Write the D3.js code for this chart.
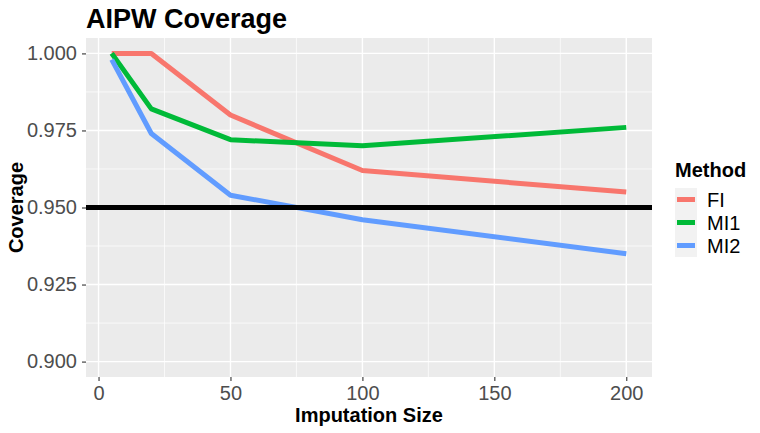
<!DOCTYPE html>
<html>
<head>
<meta charset="utf-8">
<script src="https://cdn.jsdelivr.net/npm/d3@7"></script>
<style>
  body { margin: 0; background: #fff; }
  svg { display: block; font-family: "Liberation Sans", Arial, sans-serif; }
</style>
</head>
<body>
<div id="chart"></div>
<script>
// data
const sizes = [5, 20, 50, 100, 200];
const methods = ["FI", "MI1", "MI2"];
const fiValues = [1.000, 1.000, 0.980, 0.962, 0.955];
const mi1Values = [1.000, 0.982, 0.972, 0.970, 0.976];
const mi2Values = [0.998, 0.974, 0.954, 0.946, 0.935];
const xTicks = [0, 50, 100, 150, 200];
const yTicks = [0.900, 0.925, 0.950, 0.975, 1.000];
const refLine = 0.95;

const colors = { FI: "#F8766D", MI1: "#00BA38", MI2: "#619CFF" };
const seriesValues = { FI: fiValues, MI1: mi1Values, MI2: mi2Values };

const width = 760, height = 433;
const panel = { left: 86, right: 652, top: 38, bottom: 377 };

const svg = d3.select("#chart").append("svg")
    .attr("width", width)
    .attr("height", height);

// scales, with ggplot's 5% expansion
const x = d3.scaleLinear()
    .domain([5 - 9.75, 200 + 9.75])
    .range([panel.left, panel.right]);

const y = d3.scaleLinear()
    .domain([0.895, 1.005])
    .range([panel.bottom, panel.top]);

// panel background
svg.append("rect")
    .attr("x", panel.left)
    .attr("y", panel.top)
    .attr("width", panel.right - panel.left)
    .attr("height", panel.bottom - panel.top)
    .attr("fill", "#EBEBEB");

// minor grid
const grid = svg.append("g");
const xMinor = xTicks.slice(0, -1).map((d, i) => (d + xTicks[i + 1]) / 2);
const yMinor = yTicks.slice(0, -1).map((d, i) => (d + yTicks[i + 1]) / 2);

grid.selectAll(".xminor").data(xMinor).enter().append("line")
    .attr("x1", d => x(d)).attr("x2", d => x(d))
    .attr("y1", panel.top).attr("y2", panel.bottom)
    .attr("stroke", "#fff").attr("stroke-width", 0.7);
grid.selectAll(".yminor").data(yMinor).enter().append("line")
    .attr("x1", panel.left).attr("x2", panel.right)
    .attr("y1", d => y(d)).attr("y2", d => y(d))
    .attr("stroke", "#fff").attr("stroke-width", 0.7);

// major grid
grid.selectAll(".xmajor").data(xTicks).enter().append("line")
    .attr("x1", d => x(d)).attr("x2", d => x(d))
    .attr("y1", panel.top).attr("y2", panel.bottom)
    .attr("stroke", "#fff").attr("stroke-width", 1.4);
grid.selectAll(".ymajor").data(yTicks).enter().append("line")
    .attr("x1", panel.left).attr("x2", panel.right)
    .attr("y1", d => y(d)).attr("y2", d => y(d))
    .attr("stroke", "#fff").attr("stroke-width", 1.4);

// axes
const xAxis = svg.append("g")
    .attr("transform", `translate(0,${panel.bottom})`)
    .call(d3.axisBottom(x).tickValues(xTicks).tickSize(4).tickPadding(5))
    .call(g => g.select(".domain").remove());
xAxis.selectAll(".tick line").attr("stroke", "#333333").attr("stroke-width", 1.1);
xAxis.selectAll(".tick text")
    .attr("fill", "#4D4D4D")
    .style("font-size", "20px")
    .style("font-family", "'Liberation Sans', Arial, sans-serif");

const yAxis = svg.append("g")
    .attr("transform", `translate(${panel.left},0)`)
    .call(d3.axisLeft(y).tickValues(yTicks).tickFormat(d3.format(".3f")).tickSize(4).tickPadding(5))
    .call(g => g.select(".domain").remove());
yAxis.selectAll(".tick line").attr("stroke", "#333333").attr("stroke-width", 1.1);
yAxis.selectAll(".tick text")
    .attr("fill", "#4D4D4D")
    .style("font-size", "20px")
    .style("font-family", "'Liberation Sans', Arial, sans-serif");

// lines
const line = d3.line()
    .x(d => x(d.size))
    .y(d => y(d.value));

methods.forEach(m => {
    const pts = sizes.map((s, i) => ({ size: s, value: seriesValues[m][i] }));
    svg.append("path")
        .datum(pts)
        .attr("fill", "none")
        .attr("stroke", colors[m])
        .attr("stroke-width", 5)
        .attr("stroke-linejoin", "round")
        .attr("d", line);
});

// reference line at 0.95
svg.append("line")
    .attr("x1", panel.left).attr("x2", panel.right)
    .attr("y1", y(refLine)).attr("y2", y(refLine))
    .attr("stroke", "#000").attr("stroke-width", 5);

// title
svg.append("text")
    .attr("x", panel.left)
    .attr("y", 28)
    .attr("font-size", 27)
    .attr("font-weight", "bold")
    .text("AIPW Coverage");

// axis titles
svg.append("text")
    .attr("x", (panel.left + panel.right) / 2)
    .attr("y", 422)
    .attr("text-anchor", "middle")
    .attr("font-size", 20)
    .attr("font-weight", "bold")
    .text("Imputation Size");

svg.append("text")
    .attr("transform", `translate(23,${(panel.top + panel.bottom) / 2}) rotate(-90)`)
    .attr("text-anchor", "middle")
    .attr("font-size", 20)
    .attr("font-weight", "bold")
    .text("Coverage");

// legend
const legend = svg.append("g").attr("transform", "translate(675,0)");
legend.append("text")
    .attr("x", 0)
    .attr("y", 177)
    .attr("font-size", 20)
    .attr("font-weight", "bold")
    .text("Method");

methods.forEach((m, i) => {
    const top = 188 + i * 23;
    legend.append("rect")
        .attr("x", 0).attr("y", top)
        .attr("width", 22).attr("height", 23)
        .attr("fill", "#F2F2F2");
    legend.append("line")
        .attr("x1", 2).attr("x2", 20)
        .attr("y1", top + 11.5).attr("y2", top + 11.5)
        .attr("stroke", colors[m]).attr("stroke-width", 5);
    legend.append("text")
        .attr("x", 32)
        .attr("y", top + 19)
        .attr("font-size", 20)
        .text(m);
});
</script>
</body>
</html>
